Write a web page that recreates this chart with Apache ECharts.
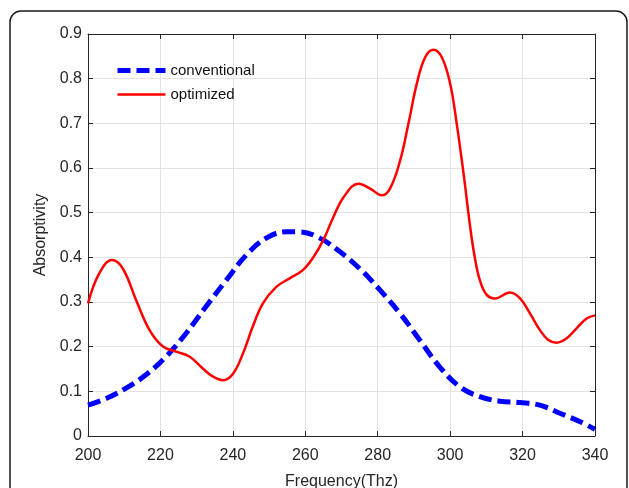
<!DOCTYPE html>
<html>
<head>
<meta charset="utf-8">
<script src="https://cdn.jsdelivr.net/npm/echarts@6/dist/echarts.min.js"></script>
<style>
  html,body{margin:0;padding:0;background:#fff;}
  #main{width:629px;height:488px;}
</style>
</head>
<body>
<div id="main"></div>
<script>
// 频率 (THz) 与吸收率 —— 点
const convFreq = [200, 205, 210.5, 216, 221.6, 227.1, 232.6, 238.2, 243.7, 249.2, 254.7, 258.4, 264, 269.5, 275, 280.6, 286.1, 291.6, 297.1, 302.7, 308.2, 313.7, 319.3, 324.8, 330.3, 335.9, 340];
const convVal  = [0.069, 0.084, 0.107, 0.137, 0.178, 0.23, 0.29, 0.349, 0.405, 0.443, 0.457, 0.457, 0.443, 0.413, 0.375, 0.327, 0.275, 0.215, 0.155, 0.11, 0.088, 0.078, 0.075, 0.069, 0.051, 0.032, 0.015];

const optFreq = [200, 203.1, 206.6, 209.6, 213.3, 217, 220.6, 224.3, 228, 231.7, 234.5, 237.2, 240, 242.8, 245.5, 248.3, 252, 255.7, 259.4, 262.3, 265, 267.8, 270.6, 274.7, 277.9, 281.1, 283.4, 286.2, 288.5, 290.8, 293.1, 295.4, 297.7, 300, 301.8, 303.7, 305.5, 306.8, 308.2, 310.1, 312.4, 316.5, 319.3, 322, 324.8, 327.1, 329.4, 332.2, 334.9, 337.7, 340];
const optVal  = [0.297, 0.364, 0.394, 0.375, 0.304, 0.237, 0.201, 0.189, 0.178, 0.151, 0.133, 0.125, 0.139, 0.185, 0.245, 0.297, 0.334, 0.353, 0.372, 0.401, 0.439, 0.491, 0.535, 0.565, 0.554, 0.539, 0.554, 0.617, 0.70, 0.789, 0.848, 0.865, 0.848, 0.789, 0.70, 0.588, 0.47, 0.40, 0.349, 0.316, 0.308, 0.321, 0.308, 0.275, 0.237, 0.215, 0.209, 0.219, 0.241, 0.263, 0.27];

const seriesNames = ['conventional', 'optimized'];

const pairs = (xs, ys) => xs.map((x, i) => [x, ys[i]]);

const axisColor = '#262626';
const font = 'Liberation Sans, Arial, Helvetica, sans-serif';
const blueLine = { color: '#0000ff', width: 5, type: [13, 6] };
const redLine = { color: '#ff0000', width: 2.5 };

const chart = echarts.init(document.getElementById('main'));
const option = {
  animation: false,
  backgroundColor: '#fff',
  textStyle: { fontFamily: font },
  grid: { left: 88, right: 34, top: 34, bottom: 52, containLabel: false, outerBoundsMode: 'none' },
  graphic: [{
    type: 'rect',
    shape: { x: 10, y: 11, width: 617, height: 520, r: 11 },
    style: { fill: 'none', stroke: '#1a1a1a', lineWidth: 1.5 },
    silent: true
  }],
  legend: {
    orient: 'vertical',
    left: 115,
    top: 63,
    padding: 0,
    itemWidth: 48,
    itemHeight: 12,
    itemGap: 9,
    itemStyle: { opacity: 0 },
    textStyle: { fontSize: 15, color: '#111', fontFamily: font },
    data: [
      { name: seriesNames[0], lineStyle: blueLine },
      { name: seriesNames[1], lineStyle: redLine }
    ]
  },
  xAxis: [{
    type: 'value', min: 200, max: 340, interval: 20,
    name: 'Frequency(Thz)', nameLocation: 'middle', nameGap: 38,
    nameTextStyle: { fontSize: 16, color: axisColor },
    axisLine: { onZero: false, lineStyle: { color: axisColor, width: 1 } },
    axisTick: { inside: true, length: 5, lineStyle: { color: axisColor } },
    axisLabel: { fontSize: 16, color: axisColor, margin: 12 },
    splitLine: { show: true, lineStyle: { color: '#e3e3e3', width: 1 } }
  }, {
    type: 'value', min: 200, max: 340, interval: 20, position: 'top',
    axisLine: { onZero: false, lineStyle: { color: axisColor, width: 1 } },
    axisTick: { inside: true, length: 5, lineStyle: { color: axisColor } },
    axisLabel: { show: false },
    splitLine: { show: false }
  }],
  yAxis: [{
    type: 'value', min: 0, max: 0.9, interval: 0.1,
    name: 'Absorptivity', nameLocation: 'middle', nameGap: 38,
    nameTextStyle: { fontSize: 16, color: axisColor },
    axisLine: { show: true, onZero: false, lineStyle: { color: axisColor, width: 1 } },
    axisTick: { show: true, inside: true, length: 5, lineStyle: { color: axisColor } },
    axisLabel: { fontSize: 16, color: axisColor, margin: 6,
      formatter: v => (Math.round(v * 10) / 10).toString() },
    splitLine: { show: true, lineStyle: { color: '#e3e3e3', width: 1 } }
  }, {
    type: 'value', min: 0, max: 0.9, interval: 0.1, position: 'right',
    axisLine: { show: true, onZero: false, lineStyle: { color: axisColor, width: 1 } },
    axisTick: { show: true, inside: true, length: 5, lineStyle: { color: axisColor } },
    axisLabel: { show: false },
    splitLine: { show: false }
  }],
  series: [{
    name: seriesNames[0],
    type: 'line',
    smooth: 0.4,
    symbol: 'none',
    color: '#0000ff',
    lineStyle: blueLine,
    data: pairs(convFreq, convVal),
    z: 3
  }, {
    name: seriesNames[1],
    type: 'line',
    smooth: 0.4,
    symbol: 'none',
    color: '#ff0000',
    lineStyle: redLine,
    data: pairs(optFreq, optVal),
    z: 4
  }]
};
chart.setOption(option);
</script>
</body>
</html>
